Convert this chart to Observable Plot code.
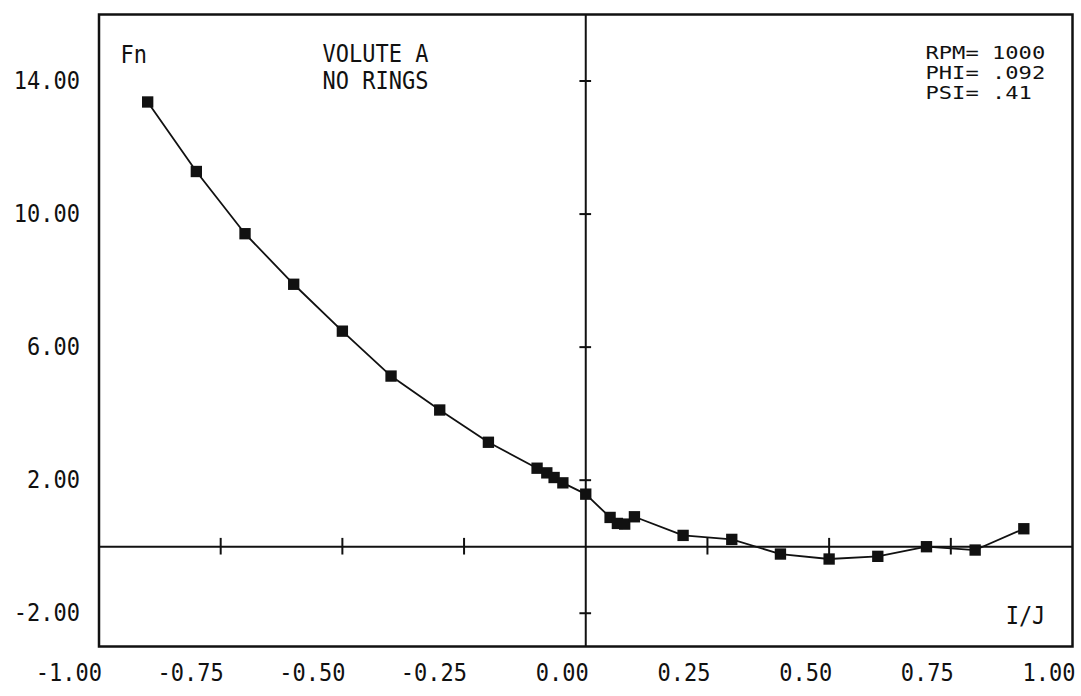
<!DOCTYPE html>
<html><head><meta charset="utf-8">
<script src="https://cdn.jsdelivr.net/npm/d3@7"></script>
<script src="https://cdn.jsdelivr.net/npm/@observablehq/plot@0.6"></script>
<style>
html,body{margin:0;padding:0;background:#fff;}
#chart svg{display:block;}
</style></head><body><div id="chart"></div>
<script>
// I/J ratio (x) and Fn (y)
const ijRatio = [-0.9, -0.8, -0.7, -0.6, -0.5, -0.4, -0.3, -0.2, -0.1, -0.08, -0.065, -0.047, 0, 0.05, 0.065, 0.08, 0.1, 0.2, 0.3, 0.4, 0.5, 0.6, 0.7, 0.8, 0.9];
const fnValues = [13.37, 11.28, 9.41, 7.89, 6.48, 5.13, 4.11, 3.14, 2.36, 2.22, 2.08, 1.92, 1.58, 0.88, 0.70, 0.68, 0.90, 0.34, 0.22, -0.22, -0.37, -0.29, 0.0, -0.10, 0.54];
const xTickValues = [-1, -0.75, -0.5, -0.25, 0, 0.25, 0.5, 0.75, 1];
const yTickValues = [-2, 2, 6, 10, 14];
const zeroAxisTicksX = [-0.75, -0.5, -0.25, 0.25, 0.5, 0.75];
const zeroAxisTicksY = [-2, 2, 6, 10, 14];
const yAxisTitle = "Fn";
const xAxisTitle = "I/J";
const caseLabel = ["VOLUTE A", "NO RINGS"];
const conditions = ["RPM= 1000", "PHI= .092", "PSI= .41"];

const data = ijRatio.map((x, i) => ({x, y: fnValues[i]}));
const fmt = d => d.toFixed(2);
const font = "'DejaVu Sans Mono', 'Liberation Mono', monospace";
const ink = "#111";

const plot = Plot.plot({
  width: 1081, height: 696,
  marginLeft: 98.5, marginRight: 9, marginTop: 14, marginBottom: 50,
  x: {domain: [-1, 1]},
  y: {domain: [-3, 16]},
  style: {fontFamily: font, background: "#fff", color: ink},
  marks: [
    Plot.frame({stroke: ink, strokeWidth: 2.5}),
    Plot.ruleY([0], {stroke: ink, strokeWidth: 2}),
    Plot.ruleX([0], {stroke: ink, strokeWidth: 2}),
    Plot.ruleX(zeroAxisTicksX, {x: d => d, y1: -0.25, y2: 0.25, stroke: ink, strokeWidth: 2}),
    Plot.ruleY(zeroAxisTicksY, {y: d => d, x1: -0.012, x2: 0.012, stroke: ink, strokeWidth: 2}),
    Plot.line(data, {x: "x", y: "y", stroke: ink, strokeWidth: 1.8}),
    Plot.dot(data, {x: "x", y: "y", symbol: "square", r: 6.4, fill: ink, stroke: "none"}),
    Plot.axisX({ticks: xTickValues, tickSize: 0, tickPadding: 17, tickFormat: fmt, textAnchor: "end", dx: 3, fontSize: 22, fill: ink, label: null}),
    Plot.axisY({ticks: yTickValues, tickSize: 0, tickPadding: 19, tickFormat: fmt, fontSize: 22, fill: ink, label: null}),
    Plot.text([yAxisTitle], {frameAnchor: "top-left", dx: 21.5, dy: 41, textAnchor: "start", lineAnchor: "middle", fontSize: 22, fill: ink}),
    Plot.text([caseLabel.join("\n")], {frameAnchor: "top-left", dx: 223.5, dy: 52, textAnchor: "start", lineAnchor: "middle", lineHeight: 1.1, fontSize: 22, fill: ink}),
    Plot.text([conditions.join("\n")], {frameAnchor: "top-right", dx: -147, dy: 58, textAnchor: "start", lineAnchor: "middle", lineHeight: 1.2, fontSize: 17, fill: ink}),
    Plot.text([xAxisTitle], {frameAnchor: "bottom-right", dx: -47, dy: -30, textAnchor: "middle", lineAnchor: "middle", fontSize: 22, fill: ink})
  ]
});

// stretch the glyphs to mimic the tall plotter font
plot.querySelectorAll("text").forEach(t => {
  const tr = t.getAttribute("transform");
  if (!tr) return;
  const isConditions = t.textContent.startsWith("RPM");
  t.setAttribute("transform", tr + (isConditions ? " scale(1.3,1)" : " scale(1,1.12)"));
});
document.getElementById("chart").appendChild(plot);
</script>
</body></html>
